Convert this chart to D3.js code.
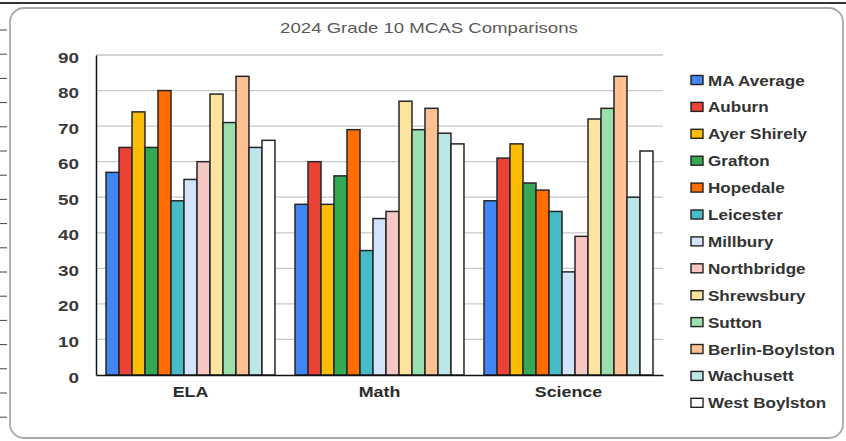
<!DOCTYPE html>
<html>
<head>
<meta charset="utf-8">
<script src="https://cdn.jsdelivr.net/npm/d3@7/dist/d3.min.js"></script>
<style>
  body { margin: 0; background: #fff; }
  svg text { font-family: "Liberation Sans", Arial, sans-serif; }
</style>
</head>
<body>
<svg id="chart" width="846" height="441"></svg>
<script>
// subjects on the x axis
var subjects = ["ELA", "Math", "Science"];

// districts (legend order)
var districts = ["MA Average", "Auburn", "Ayer Shirely", "Grafton", "Hopedale", "Leicester",
  "Millbury", "Northbridge", "Shrewsbury", "Sutton", "Berlin-Boylston", "Wachusett", "West Boylston"];

var districtColors = ["#4285f4", "#ea4335", "#fbbc04", "#34a853", "#ff6d01", "#46bdc6",
  "#d2e3fc", "#f6c6c2", "#fce4a0", "#9adfad", "#ffc192", "#bde6e8", "#ffffff"];

// percent meeting/exceeding per subject, one array per district
var maAverage      = [57, 48, 49];
var auburn         = [64, 60, 61];
var ayerShirely    = [74, 48, 65];
var grafton        = [64, 56, 54];
var hopedale       = [80, 69, 52];
var leicester      = [49, 35, 46];
var millbury       = [55, 44, 29];
var northbridge    = [60, 46, 39];
var shrewsbury     = [79, 77, 72];
var sutton         = [71, 69, 75];
var berlinBoylston = [84, 75, 84];
var wachusett      = [64, 68, 50];
var westBoylston   = [66, 65, 63];

var yTicks = [0, 10, 20, 30, 40, 50, 60, 70, 80, 90];

var seriesValues = [maAverage, auburn, ayerShirely, grafton, hopedale, leicester,
  millbury, northbridge, shrewsbury, sutton, berlinBoylston, wachusett, westBoylston];

var svg = d3.select("#chart");

// the original export has its text stretched sideways, so widen it the same way
function stretch(sel, sx) {
  sel.each(function() {
    var len = this.getComputedTextLength();
    d3.select(this)
      .attr("textLength", len * sx)
      .attr("lengthAdjust", "spacingAndGlyphs");
  });
}

// ---- background bits (sheet edge + chart frame) ----
svg.append("line")
  .attr("x1", 0).attr("x2", 846).attr("y1", 3).attr("y2", 3)
  .attr("stroke", "#333").attr("stroke-width", 2);

svg.selectAll(".rowtick")
  .data(d3.range(30, 441, 24.2))
  .enter().append("line")
  .attr("class", "rowtick")
  .attr("x1", 0).attr("x2", 7)
  .attr("y1", function(d) { return d; }).attr("y2", function(d) { return d; })
  .attr("stroke", "#444").attr("stroke-width", 1);

svg.append("rect")
  .attr("x", 10).attr("y", 8).attr("width", 833).attr("height", 430)
  .attr("rx", 14).attr("ry", 14)
  .attr("fill", "#fff").attr("stroke", "#a8a8a8").attr("stroke-width", 1.8);

// ---- scales ----
var margin = {left: 96, right: 663, top: 55, bottom: 375};

var x0 = d3.scaleBand().domain(subjects).range([margin.left, margin.right]).padding(0);
var x1 = d3.scaleBand().domain(districts).range([0, x0.bandwidth()])
  .paddingInner(0).paddingOuter(0.77);
var y = d3.scaleLinear().domain([0, 90]).range([margin.bottom, margin.top]);

// title
svg.append("text")
  .attr("x", 429).attr("y", 33)
  .attr("text-anchor", "middle")
  .attr("font-size", "15px")
  .attr("fill", "#5a5a5a")
  .text("2024 Grade 10 MCAS Comparisons")
  .call(stretch, 1.24);

// gridlines
svg.append("g")
  .selectAll("line")
  .data(yTicks.filter(function(d) { return d > 0; }))
  .enter().append("line")
  .attr("x1", margin.left).attr("x2", margin.right)
  .attr("y1", function(d) { return y(d); }).attr("y2", function(d) { return y(d); })
  .attr("stroke", "#c8c8c8").attr("stroke-width", 1.3);

// y axis
var yAxis = d3.axisLeft(y).tickValues(yTicks).tickSize(0).tickPadding(17);
var gy = svg.append("g")
  .attr("transform", "translate(" + margin.left + ",0)")
  .call(yAxis);
gy.select(".domain").attr("stroke", "#111").attr("stroke-width", 1.5);
gy.selectAll("text")
  .attr("font-size", "14px")
  .attr("font-weight", "bold")
  .attr("fill", "#3a3a3a")
  .attr("dy", "0.5em")
  .attr("font-family", "Liberation Sans, Arial, sans-serif")
  .call(stretch, 1.35);

// bars
var groups = svg.selectAll(".subject")
  .data(subjects)
  .enter().append("g")
  .attr("class", "subject")
  .attr("transform", function(d) { return "translate(" + x0(d) + ",0)"; });

groups.selectAll("rect")
  .data(function(s, si) {
    return districts.map(function(name, di) {
      return {name: name, value: seriesValues[di][si], color: districtColors[di]};
    });
  })
  .enter().append("rect")
  .attr("x", function(d) { return x1(d.name); })
  .attr("width", x1.bandwidth())
  .attr("y", function(d) { return y(d.value); })
  .attr("height", function(d) { return y(0) - y(d.value); })
  .attr("fill", function(d) { return d.color; })
  .attr("stroke", "#262626")
  .attr("stroke-width", 1.5);

// x axis
var xAxis = d3.axisBottom(x0).tickSize(0).tickPadding(11);
var gx = svg.append("g")
  .attr("transform", "translate(0," + margin.bottom + ")")
  .call(xAxis);
gx.select(".domain").attr("stroke", "#111").attr("stroke-width", 1.5);
gx.selectAll("text")
  .attr("font-size", "15.5px")
  .attr("font-weight", "bold")
  .attr("fill", "#2a2a2a")
  .attr("font-family", "Liberation Sans, Arial, sans-serif")
  .call(stretch, 1.15);

// legend
var legend = svg.append("g").attr("transform", "translate(691,80)");
var legendRows = legend.selectAll(".leg")
  .data(districts)
  .enter().append("g")
  .attr("class", "leg")
  .attr("transform", function(d, i) { return "translate(0," + (i * 26.9) + ")"; });

legendRows.append("rect")
  .attr("x", 0).attr("y", -4.5)
  .attr("width", 12).attr("height", 9)
  .attr("fill", function(d, i) { return districtColors[i]; })
  .attr("stroke", "#222").attr("stroke-width", 1.4);

legendRows.append("text")
  .attr("x", 17).attr("y", 0)
  .attr("dy", "0.36em")
  .attr("font-size", "15.5px")
  .attr("font-weight", "bold")
  .attr("fill", "#333")
  .text(function(d) { return d; })
  .call(stretch, 1.1);
</script>
</body>
</html>
